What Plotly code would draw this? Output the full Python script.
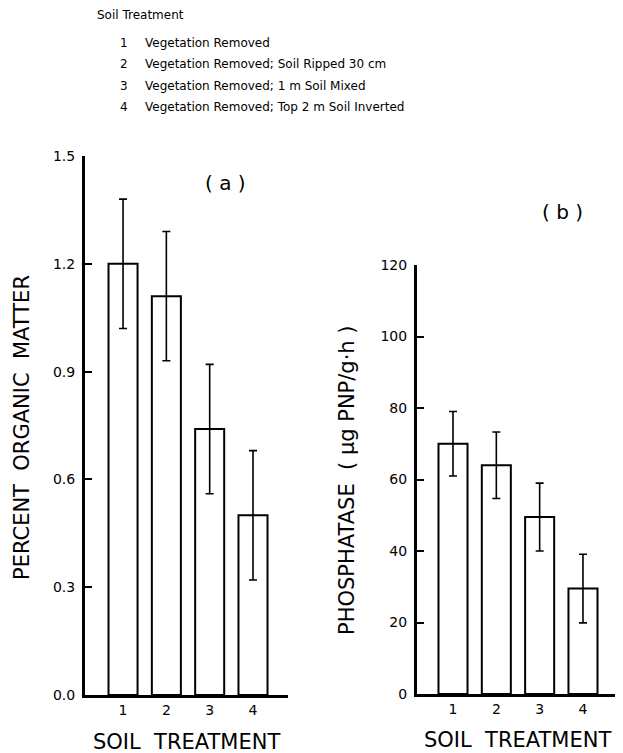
import plotly.graph_objects as go

W, H = 623, 753
OFF = 8  # page body margin offset

treatments = [1, 2, 3, 4]
tick_labels = ["1", "2", "3", "4"]
organic_matter = [1.20, 1.11, 0.74, 0.50]
organic_err = [0.18, 0.18, 0.18, 0.18]
phosphatase = [70, 64, 49.5, 29.5]
phosphatase_err = [9, 9.3, 9.5, 9.6]
legend_title = "Soil Treatment"
legend_items = [
    "Vegetation Removed",
    "Vegetation Removed; Soil Ripped 30 cm",
    "Vegetation Removed; 1 m Soil Mixed",
    "Vegetation Removed; Top 2 m Soil Inverted",
]
legend_nums = ["1", "2", "3", "4"]

FONT = "DejaVu Sans"
FW, FH = W - OFF, H - OFF
fig = go.Figure()

bar_style = dict(marker=dict(color="white", line=dict(color="black", width=2)), width=0.67, showlegend=False)

fig.add_trace(go.Bar(x=treatments, y=organic_matter,
                     error_y=dict(type="data", array=organic_err, color="black", thickness=1.6, width=4),
                     xaxis="x", yaxis="y", **bar_style))
fig.add_trace(go.Bar(x=treatments, y=phosphatase,
                     error_y=dict(type="data", array=phosphatase_err, color="black", thickness=1.6, width=4),
                     xaxis="x2", yaxis="y2", **bar_style))

def px(x):
    return (x - OFF) / FW

def py(y):
    return 1 - (y - OFF) / FH

axis_common = dict(showline=True, linecolor="black", linewidth=3, showgrid=False, zeroline=False,
                   automargin=False, tickfont=dict(family=FONT, size=14, color="black"))

fig.update_layout(
    width=FW, height=FH,
    margin=dict(l=0, r=0, t=0, b=0, pad=0, autoexpand=False),
    paper_bgcolor="white", plot_bgcolor="white",
    font=dict(family=FONT, color="black"),
    xaxis=dict(domain=[px(85), px(288)], range=[0.122, 4.808], tickvals=treatments, ticktext=tick_labels,
               ticks="", anchor="y", **axis_common),
    yaxis=dict(domain=[py(695), py(156)], range=[0, 1.5], tickvals=[0, 0.3, 0.6, 0.9, 1.2, 1.5],
               ticktext=["0.0", "0.3", "0.6", "0.9", "1.2", "1.5"], ticks="inside", ticklen=7, tickwidth=2,
               tickcolor="black", anchor="x", ticklabelstandoff=4, **axis_common),
    xaxis2=dict(domain=[px(417), px(615)], range=[0.169, 4.739], tickvals=treatments, ticktext=tick_labels,
                ticks="", anchor="y2", **axis_common),
    yaxis2=dict(domain=[py(694), py(265)], range=[0, 120], tickvals=[0, 20, 40, 60, 80, 100, 120],
                ticks="inside", ticklen=7, tickwidth=2, tickcolor="black", anchor="x2",
                ticklabelstandoff=4, **axis_common),
)

ann = []
def add_text(text, x, y, size, xanchor="center", angle=0):
    ann.append(dict(text=text, x=px(x), y=py(y), xref="paper", yref="paper", showarrow=False,
                    xanchor=xanchor, yanchor="middle", textangle=angle, borderpad=0, borderwidth=0,
                    font=dict(family=FONT, size=size, color="black")))

add_text(legend_title, 97, 15, 12, xanchor="left")
for i, (n, t) in enumerate(zip(legend_nums, legend_items)):
    yy = [43, 64, 86, 107][i]
    add_text(n, 124, yy, 12)
    add_text(t, 145, yy, 12, xanchor="left")

add_text("( a )", 225, 183, 20)
add_text("( b )", 562, 212, 20)
add_text("PERCENT  ORGANIC  MATTER", 22, 428, 21, angle=-90)
add_text("PHOSPHATASE  ( μg PNP/g·h )", 347, 480, 21, angle=-90)
add_text("SOIL  TREATMENT", 186, 742, 21)
add_text("SOIL  TREATMENT", 517, 740, 21)

fig.update_layout(annotations=ann)
fig.write_html("out.html")
